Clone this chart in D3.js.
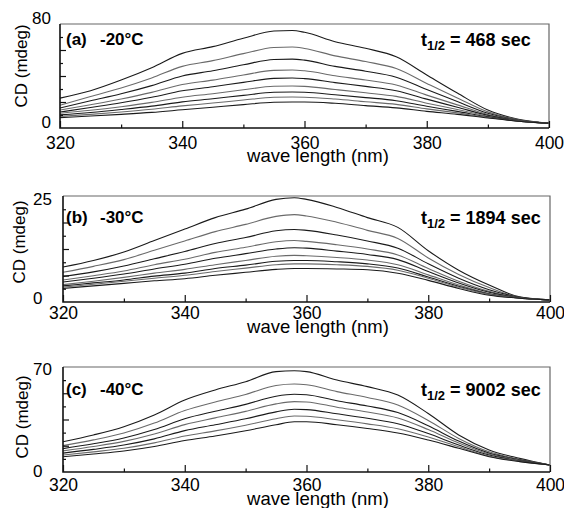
<!DOCTYPE html>
<html><head><meta charset="utf-8">
<script src="https://cdn.jsdelivr.net/npm/d3@7"></script>
<style>body{margin:0;background:#fff} svg{display:block}</style>
</head><body>
<svg id="chart" width="564" height="508"></svg>
<script>
// ---------------- data ----------------
const wavelengths = [320,325,330,335,340,345,350,355,358,360,365,370,375,380,385,390,395,400];
const xTickLabels = [320,340,360,380,400];
const xMinorTicks = [330,350,370,390];
const panelLabels = ["(a)","(b)","(c)"];
const temperatures = ["-20°C","-30°C","-40°C"];
const halfLives = ["468","1894","9002"];
const yMax = [80,25,70];

const seriesA = [
 [23,28.7,36.9,46.4,57.4,62.6,69,74.6,75,73.6,66.4,61.3,54.8,40.8,26.9,13.8,6.7,3.6],
 [17.5,24.2,30.8,38.5,47.4,51.8,57.2,61.9,62.3,61.2,55.5,51.1,45.7,34.3,23.1,12.4,6.4,3.6],
 [15.4,20.9,26.3,32.6,40,44,48.6,52.7,53,52.2,47.4,43.7,39.1,29.6,20.3,11.4,6.1,3.6],
 [13.8,17.9,22.3,27.4,33.4,36.8,40.8,44.3,44.6,44,40.2,36.9,33.1,25.3,17.8,10.4,5.9,3.6],
 [12.3,15.8,19.4,23.6,28.6,31.7,35.1,38.2,38.5,38,34.9,32,28.7,22.2,16,9.7,5.7,3.6],
 [11.4,13.6,16.4,19.7,23.7,26.4,29.4,32.1,32.3,32,29.6,27.1,24.3,19.1,14.2,9.1,5.5,3.6],
 [10.1,11.9,14.2,16.8,20.1,22.5,25.1,27.5,27.7,27.5,25.6,23.4,21,16.7,12.8,8.6,5.3,3.6],
 [9,10.5,12.3,14.4,17,19.2,21.5,23.6,23.8,23.7,22.3,20.2,18.2,14.7,11.6,8.1,5.3,3.6],
 [8,9.2,10.5,12,14,16,18,19.8,20,20,19,17.2,15.5,12.8,10.5,7.7,5.2,3.6]
];
const seriesB = [
 [8.25,9.8,11.8,14.5,17.2,19.9,21.9,24.2,24.6,24.2,22.3,19.9,17.6,12.1,7.5,4.0,1.2,0.5],
 [7.0,8.4,10,12.2,14.4,16.6,18.3,20.2,20.6,20.3,18.8,16.9,15,10.4,6.5,3.4,1.1,0.5],
 [6.0,7.1,8.5,10.2,11.9,13.8,15.2,16.8,17.1,16.9,15.8,14.4,12.7,9,5.6,2.9,1.1,0.5],
 [5.2,6.2,7.3,8.8,10.1,11.7,12.9,14.2,14.5,14.3,13.5,12.5,11.1,7.9,4.9,2.5,1.0,0.5],
 [4.7,5.6,6.6,7.8,8.9,10.3,11.4,12.5,12.8,12.7,12.0,11.2,10,7.2,4.5,2.3,1.0,0.5],
 [4.1,4.9,5.8,6.8,7.7,8.8,9.8,10.8,11,10.9,10.5,9.9,8.8,6.4,4.0,2.0,0.95,0.5],
 [3.8,4.5,5.2,6.1,6.8,7.9,8.7,9.6,9.8,9.8,9.5,9.0,8.0,5.9,3.7,1.9,0.93,0.5],
 [3.5,4.2,4.9,5.6,6.3,7.2,8.0,8.8,9.0,9.0,8.8,8.4,7.5,5.6,3.5,1.8,0.92,0.5],
 [3.2,3.8,4.4,5,5.5,6.3,7,7.7,7.9,7.9,7.8,7.6,6.8,5.1,3.2,1.6,0.9,0.5]
];
const seriesC = [
 [20.2,24.7,30.2,38,48,54.7,60.2,66.9,67.5,66.9,61.3,56.9,51.3,39,24.7,14.7,9.1,4.7],
 [17.6,21.4,26,32.6,41,46.7,51.7,57.7,58.7,58.2,53.6,49.7,44.7,34.4,22.4,13.5,8.5,4.7],
 [15.6,18.8,22.7,28.3,35.5,40.5,45.1,50.5,51.8,51.5,47.5,44,39.6,30.8,20.6,12.6,8.1,4.7],
 [14.1,17,20.4,25.3,31.6,36.1,40.4,45.4,46.9,46.7,43.2,40,36,28.3,19.3,12,7.8,4.7],
 [12.6,15.1,18,22.1,27.6,31.5,35.5,40.1,41.8,41.6,38.8,35.8,32.2,25.6,18,11.3,7.4,4.7],
 [11.3,13.4,15.8,19.4,24,27.4,31.2,35.5,37.3,37.2,34.8,32.1,28.8,23.3,16.8,10.7,7.1,4.7],
 [10.2,12,14,17,21,24,27.5,31.5,33.5,33.5,31.5,29,26,21.3,15.8,10.2,6.9,4.7]
];
const allSeries = [seriesA, seriesB, seriesC];

// ---------------- layout ----------------
const layouts = [
 {left:60,right:549,top:24,bottom:128,xPad:9,xTitleY:162,yAnchor:"end",yLabX:51,dTop:0,dBot:0,yTitleX:27,yTitleY:66,legY:45},
 {left:63,right:550,top:196,bottom:302,xPad:5,xTitleY:333,yAnchor:"start",yLabX:33,dTop:9,dBot:2,yTitleX:25,yTitleY:242,legY:223},
 {left:63,right:550,top:367,bottom:472,xPad:7,xTitleY:505,yAnchor:"start",yLabX:33,dTop:8,dBot:5,yTitleX:28,yTitleY:417,legY:395}
];
const FONT = "'Liberation Sans', Arial, Helvetica, sans-serif";
const svg = d3.select("#chart");
svg.append("rect").attr("width",564).attr("height",508).attr("fill","#fff");

layouts.forEach((L, i) => {
  const g = svg.append("g");
  const x = d3.scaleLinear().domain([320,400]).range([L.left, L.right]);
  const y = d3.scaleLinear().domain([0, yMax[i]]).range([L.bottom, L.top]);

  // curves
  const line = d3.line().x((d,k)=>x(wavelengths[k])).y(d=>y(d)).curve(d3.curveMonotoneX);
  g.append("g").selectAll("path").data(allSeries[i]).join("path")
    .attr("d", line).attr("fill","none")
    .attr("stroke",(d,k)=> k%2 ? "#6a6a6a" : "#1a1a1a")
    .attr("stroke-width",1.1);

  // frame
  g.append("path")
    .attr("d",`M${L.left},${L.top}H${L.right}V${L.bottom}`)
    .attr("fill","none").attr("stroke","#666").attr("stroke-width",1.2);
  g.append("path")
    .attr("d",`M${L.left},${L.top}V${L.bottom}H${L.right}`)
    .attr("fill","none").attr("stroke","#111").attr("stroke-width",1.6);

  // x axis: major ticks with labels, minor ticks
  const xa = g.append("g").attr("transform",`translate(0,${L.bottom})`)
    .call(d3.axisBottom(x).tickValues(xTickLabels).tickSizeInner(-7).tickSizeOuter(0).tickPadding(L.xPad).tickFormat(d3.format("d")));
  xa.select(".domain").remove();
  xa.selectAll("line").attr("stroke","#111").attr("stroke-width",1.2);
  xa.selectAll("text").attr("font-family",FONT).attr("font-size",17.5).attr("fill","#000");
  const xm = g.append("g").attr("transform",`translate(0,${L.bottom})`)
    .call(d3.axisBottom(x).tickValues(xMinorTicks).tickSizeInner(-3.5).tickSizeOuter(0).tickFormat(""));
  xm.select(".domain").remove();
  xm.selectAll("line").attr("stroke","#111").attr("stroke-width",1.2);

  // y ticks (inside), major at quarters, minor at eighths
  const yMajor = [1,2,3].map(k=>yMax[i]*k/4);
  const yMinor = [1,3,5,7].map(k=>yMax[i]*k/8);
  const ya = g.append("g").attr("transform",`translate(${L.left},0)`)
    .call(d3.axisLeft(y).tickValues(yMajor).tickSizeInner(-6).tickSizeOuter(0).tickFormat(""));
  ya.select(".domain").remove();
  ya.selectAll("line").attr("stroke","#111").attr("stroke-width",1.2);
  const ym = g.append("g").attr("transform",`translate(${L.left},0)`)
    .call(d3.axisLeft(y).tickValues(yMinor).tickSizeInner(-3).tickSizeOuter(0).tickFormat(""));
  ym.select(".domain").remove();
  ym.selectAll("line").attr("stroke","#111").attr("stroke-width",1.2);

  // y end labels
  g.append("text").attr("x",L.yLabX).attr("y",y(yMax[i])+L.dTop).attr("text-anchor",L.yAnchor)
    .attr("font-family",FONT).attr("font-size",17).text(yMax[i]);
  g.append("text").attr("x",L.yLabX).attr("y",y(0)+L.dBot).attr("text-anchor",L.yAnchor)
    .attr("font-family",FONT).attr("font-size",17).text(0);

  // axis titles
  g.append("text").attr("transform",`translate(${L.yTitleX},${L.yTitleY}) rotate(-90)`)
    .attr("text-anchor","middle").attr("font-family",FONT).attr("font-size",17).text("CD (mdeg)");
  g.append("text").attr("x",318).attr("y",L.xTitleY).attr("text-anchor","middle")
    .attr("font-family",FONT).attr("font-size",18.5).text("wave length (nm)");

  // legend texts
  g.append("text").attr("x",66).attr("y",L.legY).attr("font-family",FONT).attr("font-weight","bold")
    .attr("font-size",17).text(panelLabels[i]);
  g.append("text").attr("x",100).attr("y",L.legY).attr("font-family",FONT).attr("font-weight","bold")
    .attr("font-size",17).text(temperatures[i]);
  const t = g.append("text").attr("x",421).attr("y",L.legY+1).attr("font-family",FONT)
    .attr("font-weight","bold").attr("font-size",18);
  t.append("tspan").text("t");
  t.append("tspan").attr("font-size",13).attr("dy",4).text("1/2");
  t.append("tspan").attr("dy",-4).text(" = " + halfLives[i] + " sec");
});
</script>
</body></html>
